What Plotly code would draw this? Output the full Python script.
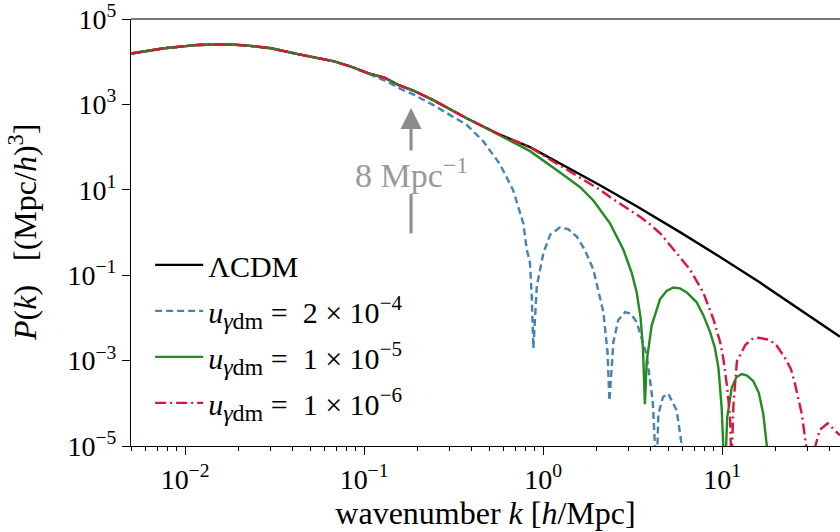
import plotly.graph_objects as go

# ---- data ----
k_lcdm = [0.0050, 0.00766, 0.01178, 0.01734, 0.02239, 0.0302, 0.0427, 0.0551, 0.0682, 0.0845,
          0.1050, 0.130, 0.154, 0.187, 0.2438, 0.374, 0.575, 0.846, 1.245, 1.679, 2.080, 3.334,
          5.82, 10.0, 16.29, 45.6]
P_lcdm = [15600, 20700, 24700, 25600, 23800, 20700, 15070, 12160, 10160, 7670,
          5370, 4210, 2900, 2140, 1256, 475, 195, 99.5, 42.0, 21.1, 12.8, 4.11,
          1.021, 0.250, 0.0671, 0.00364]

k_u2e4 = [0.0050, 0.00766, 0.01178, 0.01734, 0.02239, 0.0302, 0.0427, 0.0551, 0.0682, 0.0845,
          0.105, 0.130, 0.1589, 0.187, 0.2438, 0.374, 0.4634, 0.575, 0.682, 0.776, 0.811, 0.845,
          0.865, 0.883, 0.923, 1.005, 1.096, 1.245, 1.38, 1.542, 1.718, 1.91, 2.173, 2.291,
          2.35, 2.472, 2.63, 2.871, 3.09, 3.334, 3.793, 4.10, 4.23, 4.29, 4.406, 4.677, 5.01,
          5.585, 5.96, 6.17]
P_u2e4 = [15600, 20700, 24700, 25600, 23800, 20700, 15070, 12160, 10160, 7670,
          5310, 3640, 2344, 1738, 964, 333, 137, 39.6, 9.59, 1.63, 0.398, 0.2,
          0.0316, 1.94e-3, 0.0562, 0.331, 0.891, 1.318, 1.20, 0.804, 0.38, 0.136, 0.0136, 1.62e-3,
          1.135e-4, 2.76e-3, 8.9e-3, 0.0136, 0.0126, 8.0e-3, 1.36e-3, 1.135e-4, 7.9e-6, 1e-6, 5.6e-5, 1.41e-4, 1.68e-4,
          6.7e-5, 1e-5, 1e-6]

k_u1e5 = [0.0050, 0.00766, 0.01178, 0.01734, 0.02239, 0.0302, 0.0427, 0.0551, 0.0682, 0.0845,
          0.1050, 0.130, 0.154, 0.187, 0.2438, 0.374, 0.575, 0.846, 1.245, 1.611, 1.91, 2.366,
          2.812, 3.126, 3.334, 3.508, 3.614, 3.681, 3.707, 3.793, 4.046, 4.508, 4.898, 5.346,
          5.821, 6.353, 7.21, 7.85, 8.57, 9.12, 9.55, 9.95, 10.35, 10.69, 11.32, 12.02, 12.88,
          13.8, 14.96, 16.03, 17.0, 17.8, 18.6]
P_u1e5 = [15600, 20700, 24700, 25600, 23800, 20700, 15070, 12160, 10160, 7670,
          5370, 4210, 2900, 2140, 1256, 475, 186, 80.4, 25.5, 11.5, 5.62, 1.633,
          0.394, 0.1143, 0.0398, 0.01, 2.0e-3, 3.16e-4, 9.55e-5, 9.55e-4, 6.71e-3, 0.0276, 0.0427, 0.0514,
          0.049, 0.0394, 0.0232, 0.01175, 4.70e-3, 2.0e-3, 6.68e-4, 7.9e-5, 1.6e-6, 4.68e-5, 2.31e-4, 4.07e-4, 4.85e-4,
          4.47e-4, 3.29e-4, 1.78e-4, 5.6e-5, 1e-5, 1e-6]

k_u1e6 = [0.0050, 0.00766, 0.01178, 0.01734, 0.02239, 0.0302, 0.0427, 0.0551, 0.0682, 0.0845,
          0.1050, 0.130, 0.154, 0.187, 0.2438, 0.374, 0.575, 0.846, 1.358, 2.08, 2.366, 3.483,
          3.963, 4.508, 5.346, 6.622, 7.85, 8.93, 9.75, 10.16, 10.69, 11.09, 11.27, 11.59, 12.11,
          13.49, 14.62, 16.0, 17.78, 19.82, 22.54, 24.27, 25.6, 27.9, 29.5, 30.9, 32.7, 35.2,
          38.9, 45.6]
P_u1e6 = [15600, 20700, 24700, 25600, 23800, 20700, 15070, 12160, 10160, 7670,
          5370, 4210, 2900, 2140, 1256, 475, 195, 98.9, 30.2, 10.0, 6.75, 2.33,
          1.55, 0.959, 0.407, 0.136, 0.0394, 9.55e-3, 2.76e-3, 1.135e-3, 2.31e-4, 4.68e-5, 3.2e-6, 9.55e-5, 9.55e-4,
          2.32e-3, 3.16e-3, 3.42e-3, 3.16e-3, 2.51e-3, 1.135e-3, 6.3e-4, 2.76e-4, 5.6e-5, 1e-5, 1e-6, 7.9e-6, 2.4e-5,
          3.39e-5, 1.78e-5]

SUB = '<sub><span style="font-size:24px"><i>γ</i>dm</span></sub>'
EN = "\u2002"
names = ["ΛCDM",
         f"<i>u</i>{SUB} ={EN}2 × 10<sup>−4</sup>",
         f"<i>u</i>{SUB} ={EN}1 × 10<sup>−5</sup>",
         f"<i>u</i>{SUB} ={EN}1 × 10<sup>−6</sup>"]

x_tickvals = [0.01, 0.1, 1, 10]
x_ticktext = ["10<sup>−2</sup>", "10<sup>−1</sup>", "10<sup>0</sup>", "10<sup>1</sup>"]
y_tickvals = [1e-5, 1e-3, 1e-1, 1e1, 1e3, 1e5]
y_ticktext = ["10<sup>−5</sup>", "10<sup>−3</sup>", "10<sup>−1</sup>", "10<sup>1</sup>",
              "10<sup>3</sup>", "10<sup>5</sup>"]

FONT = "Liberation Serif"

fig = go.Figure()
series = [
    (k_lcdm, P_lcdm, "black", "solid"),
    (k_u2e4, P_u2e4, "#4682B4", "7px,4px"),
    (k_u1e5, P_u1e5, "#228B22", "solid"),
    (k_u1e6, P_u1e6, "#DC143C", "11px,4px,2px,4px"),
]
for i, (kx, py, col, dash) in enumerate(series):
    fig.add_trace(go.Scatter(x=kx, y=py, mode="lines", name=names[i],
                             legendgroup=f"g{i}",
                             line=dict(color=col, width=2.4, dash=dash)))

fig.update_layout(
    width=840, height=532,
    margin=dict(l=131, r=0, t=13, b=86),
    paper_bgcolor="white", plot_bgcolor="white",
    font=dict(family=FONT, size=26, color="black"),
    showlegend=True,
    legend=dict(x=0.027, y=0.485, xanchor="left", yanchor="top",
                bgcolor="rgba(0,0,0,0)", borderwidth=0,
                font=dict(family=FONT, size=30),
                itemwidth=48,
                traceorder="grouped", tracegroupgap=4),
    xaxis=dict(type="log", range=[-2.302, 1.659],
               tickmode="array", tickvals=x_tickvals, ticktext=x_ticktext,
               ticklabeloverflow="allow",
               showgrid=False, zeroline=False, showline=True, linecolor="black", linewidth=1,
               ticks="outside", ticklen=8, tickwidth=1, tickcolor="black",
               tickfont=dict(family=FONT, size=28),
               minor=dict(ticks="outside", ticklen=4, tickwidth=1, tickcolor="black", dtick="D1", showgrid=False),
               title=dict(text="wavenumber <i>k</i> [<i>h</i>/Mpc]", standoff=8,
                          font=dict(family=FONT, size=32))),
    yaxis=dict(type="log", range=[-5, 5],
               tickmode="array", tickvals=y_tickvals, ticktext=y_ticktext,
               ticklabeloverflow="allow",
               showgrid=False, zeroline=False, showline=True, linecolor="black", linewidth=1,
               ticks="outside", ticklen=8, tickwidth=1, tickcolor="black",
               tickfont=dict(family=FONT, size=28)),
)

# y-axis title as a rotated annotation placed like the reference
fig.add_annotation(xref="paper", yref="paper", x=-0.153, y=0.5,
                   xanchor="center", yanchor="middle", textangle=-90, showarrow=False,
                   text="<i>P</i>(<i>k</i>)\u2002 [(Mpc/<i>h</i>)<sup>3</sup>]",
                   font=dict(family=FONT, size=32, color="black"))

# top spine
fig.add_shape(type="line", xref="paper", yref="paper", x0=0, x1=1, y0=1, y1=1,
              line=dict(color="#4d4d4d", width=1.5))

# annotation arrow "8 Mpc^-1"
fig.add_annotation(x=-0.7375, y=2.915, xref="x", yref="y",
                   text="8 Mpc<sup>−1</sup>", showarrow=True,
                   ax=0, ay=65, arrowhead=2, arrowsize=1.4, arrowwidth=3,
                   arrowcolor="#8c8c8c", standoff=0, startstandoff=0,
                   font=dict(family=FONT, size=34, color="#999999"))
fig.add_shape(type="line", xref="paper", yref="paper",
              x0=0.395, x1=0.395, y0=0.59, y1=0.498,
              line=dict(color="#8c8c8c", width=3))

fig.write_html("out.html")
